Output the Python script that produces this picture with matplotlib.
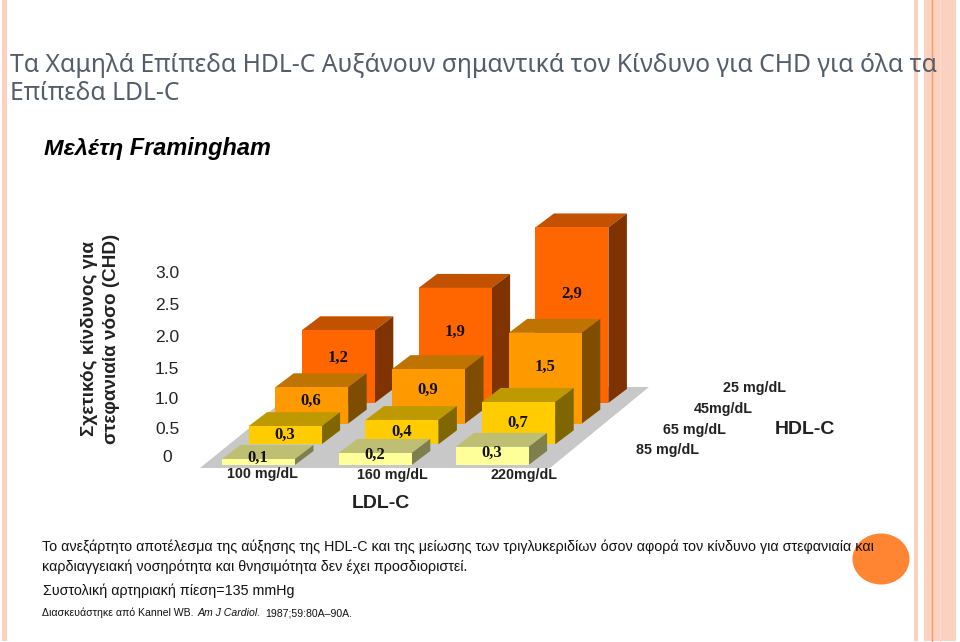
import matplotlib
matplotlib.use("Agg")
import matplotlib.pyplot as plt
from matplotlib.patches import Polygon, Ellipse, Rectangle

ldl_labels = ["100 mg/dL", "160 mg/dL", "220mg/dL"]
hdl_labels = ["85 mg/dL", "65 mg/dL", "45mg/dL", "25 mg/dL"]
y_ticks = ["3.0", "2.5", "2.0", "1.5", "1.0", "0.5", "0"]

# rows run from the front (85 mg/dL) to the back (25 mg/dL)
risk_85 = [0.1, 0.2, 0.3]
risk_65 = [0.3, 0.4, 0.7]
risk_45 = [0.6, 0.9, 1.5]
risk_25 = [1.2, 1.9, 2.9]
risks = [risk_85, risk_65, risk_45, risk_25]

front_colors = ["#FFFF99", "#FFCC00", "#FF9900", "#FF6600"]
top_colors = ["#BFBF73", "#BF9900", "#BF7300", "#C25100"]
side_colors = ["#7F7F4D", "#7F6600", "#7F4D00", "#7F3300"]

fig = plt.figure(figsize=(9.6, 6.42), dpi=100)
ax = fig.add_axes([0, 0, 1, 1])
ax.set_xlim(0, 960)
ax.set_ylim(642, 0)
ax.axis("off")

# stripes down the slide edges
stripe = "#FBD2C0"
ax.add_patch(Rectangle((2, 0), 5, 641, color=stripe, lw=0))
ax.add_patch(Rectangle((914, 0), 4, 641, color=stripe, lw=0))
ax.add_patch(Rectangle((924, 0), 32, 641, color=stripe, lw=0))
ax.plot([931.5, 931.5], [0, 641], color="#F09A70", lw=1)
ax.plot([939.5, 939.5], [0, 641], color="#FDDCCB", lw=0.8)

title_font = "Noto Sans"
ax.text(10, 65, "Τα Χαμηλά Επίπεδα HDL-C Αυξάνουν σημαντικά τον Κίνδυνο για CHD για όλα τα",
        fontsize=17.8, color="#545E6A", family=title_font, va="center")
ax.text(10, 94, "Επίπεδα LDL-C", fontsize=17.8, color="#545E6A", family=title_font, va="center")
ax.text(44, 149, "Μελέτη Framingham", fontsize=16.9, style="italic", weight="bold",
        family="Liberation Sans", va="center", color="black")

ax.text(89, 339, "Σχετικός κίνδυνος για", rotation=90, fontsize=13.6, family="Liberation Sans",
        weight="bold", ha="center", va="center", color="#222222")
ax.text(112, 339, "στεφανιαία νόσο (CHD)", rotation=90, fontsize=13.6, family="Liberation Sans",
        weight="bold", ha="center", va="center", color="#222222")

for label, y in zip(y_ticks, [273, 306, 338, 369, 400, 429, 457]):
    ax.text(167, y, label, fontsize=12.5, family="Liberation Sans", ha="center", va="center", color="#222222")

# floor
ax.add_patch(Polygon([(200, 468), (550, 468), (649, 387), (300, 387)], color="#C8C8C8", lw=0))

# hand-fitted oblique projection of the PowerPoint 3-D bars
bar_w = 73
depth_x, depth_y = 18.5, 14
px_per_unit = 60.5

for row in range(3, -1, -1):
    for col, val in enumerate(risks[row]):
        x0 = 222 + col * 116.8 + row * 26.6
        base = 465 - row * 20.7
        top = base - val * px_per_unit
        x1 = x0 + bar_w
        ax.add_patch(Polygon([(x0, top), (x1, top), (x1 + depth_x, top - depth_y), (x0 + depth_x, top - depth_y)],
                             color=top_colors[row], lw=0))
        ax.add_patch(Polygon([(x1, top), (x1 + depth_x, top - depth_y), (x1 + depth_x, base - depth_y), (x1, base)],
                             color=side_colors[row], lw=0))
        ax.add_patch(Polygon([(x0, top), (x1, top), (x1, base), (x0, base)], color=front_colors[row], lw=0))
        if row == 0:
            label_y = base - 5 - val * 25
        elif row == 1:
            label_y = top + 0.5 * (base - top)
        else:
            label_y = top + 0.38 * (base - top)
        ax.text(x0 + 36, label_y, f"{val:.1f}".replace(".", ","), fontsize=12, weight="bold",
                family="Liberation Serif", ha="center", va="center", color="#111111")

for label, x, y in zip(ldl_labels, [262, 392, 524], [474, 475, 475]):
    ax.text(x, y, label, fontsize=10.3, weight="bold", family="Liberation Sans", ha="center", va="center", color="#222222")
for label, x, y in zip(hdl_labels, [636, 663, 694, 723], [450, 430, 409, 388]):
    ax.text(x, y, label, fontsize=10.3, weight="bold", family="Liberation Sans", ha="left", va="center", color="#222222")
ax.text(381, 503, "LDL-C", fontsize=14, weight="bold", family="Liberation Sans", ha="center", va="center", color="#222222")
ax.text(805, 429, "HDL-C", fontsize=14, weight="bold", family="Liberation Sans", ha="center", va="center", color="#222222")

ax.add_patch(Ellipse((881, 559), 57, 51, color="#FF8533", lw=0))

note = dict(family="Liberation Sans", va="center", color="#111111")
ax.text(42, 547, "Το ανεξάρτητο αποτέλεσμα της αύξησης της HDL-C και της μείωσης των τριγλυκεριδίων όσον αφορά τον κίνδυνο για στεφανιαία και",
        fontsize=10.23, **note)
ax.text(42, 567, "καρδιαγγειακή νοσηρότητα και θνησιμότητα δεν έχει προσδιοριστεί.", fontsize=10.23, **note)
ax.text(43, 591, "Συστολική αρτηριακή πίεση=135 mmHg", fontsize=10.3, **note)
ax.text(42, 613, "Διασκευάστηκε από Kannel WB.", fontsize=7.6, **note)
ax.text(198, 613, "Am J Cardiol.", fontsize=7.6, style="italic", **note)
ax.text(265, 613, "1987;59:80A–90A.", fontsize=7.6, **note)

fig.savefig("out.png", dpi=100)
